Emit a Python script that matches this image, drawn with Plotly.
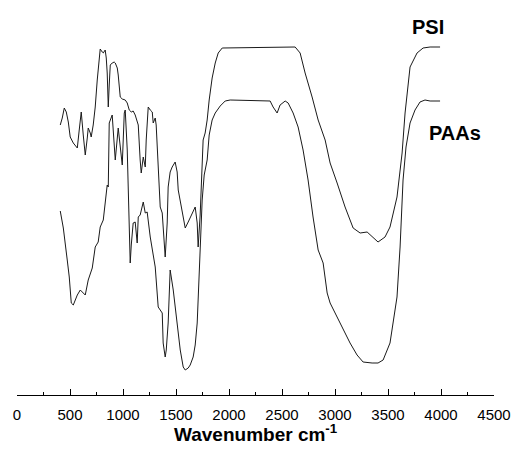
import plotly.graph_objects as go

# FTIR spectra (wavenumber in cm-1, transmittance in arbitrary units)
psi_wn = [408, 427, 446, 465, 484, 502, 531, 569, 587, 606, 625, 644, 663, 672, 691, 700,
          719, 738, 757, 776, 785, 804, 814, 832, 842, 851, 861, 870, 880, 898, 917, 927,
          946, 955, 974, 993, 1021, 1040, 1059, 1078, 1096, 1115, 1144, 1162, 1172, 1191,
          1210, 1219, 1238, 1257, 1276, 1285, 1304, 1313, 1332, 1351, 1370, 1379, 1398,
          1417, 1426, 1445, 1464, 1492, 1511, 1521, 1558, 1587, 1615, 1653, 1681, 1700,
          1709, 1728, 1747, 1756, 1775, 1794, 1813, 1841, 1870, 1898, 1936, 2624, 2671,
          2718, 2784, 2841, 2907, 2954, 3020, 3095, 3171, 3237, 3303, 3359, 3406, 3472,
          3519, 3585, 3633, 3661, 3708, 3774, 3831, 3897, 3991]
psi_t = [270, 277, 287, 283, 273, 258, 252, 247, 265, 283, 260, 240, 257, 267, 262, 258,
         270, 288, 315, 340, 346, 343, 342, 345, 337, 322, 288, 310, 330, 332, 333, 332,
         327, 320, 298, 296, 295, 292, 285, 283, 284, 280, 270, 235, 222, 238,
         228, 255, 288, 285, 283, 272, 277, 270, 222, 188, 182, 165, 138,
         172, 208, 223, 228, 233, 223, 205, 182, 167, 173, 182, 188, 172,
         148, 180, 235, 255, 262, 275, 295, 317, 332, 342, 347, 348, 342,
         322, 298, 275, 255, 232, 212, 188, 167, 162, 163, 157, 153, 158,
         168, 198, 242, 282, 328, 342, 347, 348, 348]

paas_wn = [408, 437, 474, 493, 512, 531, 569, 597, 644, 672, 710, 738, 766, 785, 814, 832,
           851, 861, 870, 898, 927, 955, 993, 1012, 1021, 1040, 1049, 1068, 1078, 1096,
           1115, 1134, 1144, 1162, 1191, 1210, 1228, 1257, 1304, 1332, 1370, 1379, 1398,
           1408, 1426, 1445, 1474, 1511, 1540, 1568, 1587, 1615, 1634, 1662, 1681, 1700,
           1728, 1747, 1766, 1794, 1813, 1841, 1870, 1917, 1964, 2011, 2388, 2416, 2454,
           2482, 2530, 2558, 2605, 2652, 2699, 2746, 2793, 2841, 2888, 2926, 2954, 3020,
           3076, 3142, 3208, 3265, 3350, 3406, 3454, 3519, 3585, 3614, 3642, 3670, 3708,
           3755, 3802, 3849, 3897, 3991]
paas_t = [184, 167, 135, 118, 92, 90, 100, 105, 100, 115, 127, 148, 153, 168, 175, 195,
          210, 208, 272, 280, 235, 267, 230, 282, 285, 245, 205, 132, 150, 172,
          173, 152, 178, 180, 193, 182, 183, 158, 128, 88, 82, 52, 38,
          45, 72, 125, 105, 72, 45, 28, 25, 27, 30, 38, 50, 72,
          138, 195, 220, 235, 260, 275, 282, 289, 294, 295, 294, 288, 282,
          290, 294, 292, 282, 268, 245, 215, 178, 145, 132, 102, 92, 78,
          65, 52, 40, 33, 32, 32, 35, 52, 98, 148, 215, 248, 272,
          285, 293, 295, 294, 294]

x_ticks = [0, 500, 1000, 1500, 2000, 2500, 3000, 3500, 4000, 4500]

FONT = "Liberation Sans, Arial, sans-serif"

fig = go.Figure()
fig.add_trace(go.Scatter(x=psi_wn, y=psi_t, mode="lines", name="PSI",
                         line=dict(color="#1a1a1a", width=1)))
fig.add_trace(go.Scatter(x=paas_wn, y=paas_t, mode="lines", name="PAAs",
                         line=dict(color="#1a1a1a", width=1)))

fig.add_annotation(x=3877, y=368, xref="x", yref="y", text="<b>PSI</b>", showarrow=False,
                   font=dict(family=FONT, size=20, color="black"))
fig.add_annotation(x=4132, y=262, xref="x", yref="y", text="<b>PAAs</b>", showarrow=False,
                   font=dict(family=FONT, size=20, color="black"))
fig.add_annotation(x=0.5, y=-0.1, xref="paper", yref="paper", yanchor="middle",
                   text="<b>Wavenumber cm<sup>-1</sup></b>", showarrow=False,
                   font=dict(family=FONT, size=19, color="black"))

fig.update_layout(
    width=516, height=461,
    margin=dict(l=17, r=22, t=20, b=66, autoexpand=False),
    paper_bgcolor="white", plot_bgcolor="white",
    showlegend=False,
    font=dict(family=FONT, color="black"),
    xaxis=dict(range=[0, 4500], tickvals=x_ticks, ticktext=[str(v) for v in x_ticks],
               ticks="inside", ticklen=6, tickwidth=1, tickcolor="black",
               minor=dict(dtick=250, ticks="inside", ticklen=3, tickwidth=1, tickcolor="black",
                          showgrid=False),
               showline=True, linecolor="black", linewidth=1, showgrid=False, zeroline=False,
               automargin=False, ticklabelstandoff=6,
               tickfont=dict(size=15, family=FONT, color="black")),
    yaxis=dict(range=[0, 375], visible=False, showgrid=False, zeroline=False, automargin=False),
)

# remove the default 8px page margin so the figure fills the window exactly
fig.write_html("out.html", config={"displayModeBar": False},
               post_script="document.body.style.margin='0px';document.body.style.overflow='hidden';")
